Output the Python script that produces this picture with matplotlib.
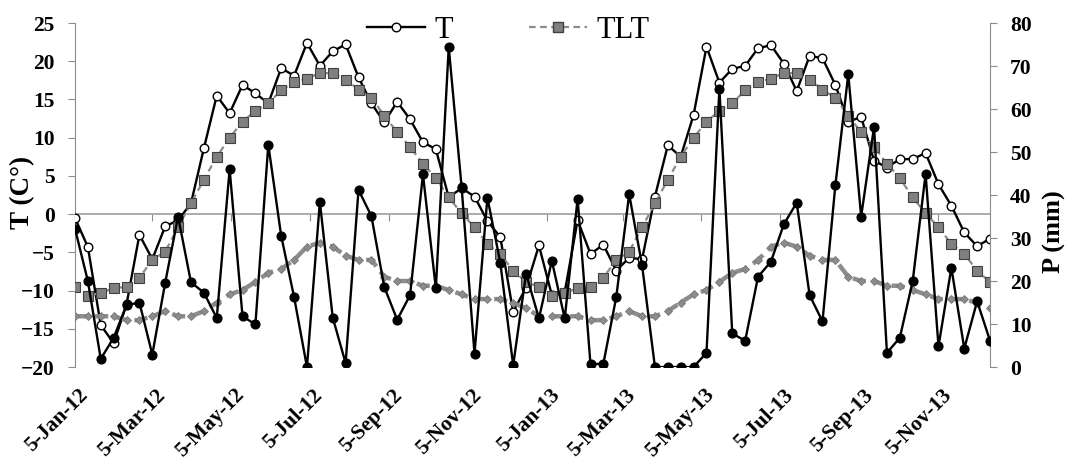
import numpy as np
import pandas as pd
import matplotlib
matplotlib.use("Agg")
import matplotlib.pyplot as plt
import matplotlib.dates as mdates
import matplotlib.transforms as mtransforms
from matplotlib.lines import Line2D

# dekadal series, 10-day step starting 5-Jan-2012 (72 points)
start_date = "2012-01-05"
n_points = 72

# air temperature (deg C)
t_obs = [-0.5, -4.3, -14.5, -16.9, -11.8, -2.7, -5.9, -1.6, -0.8, 1.4, 8.6, 15.5,
         13.2, 16.9, 15.8, 14.5, 19.1, 18.1, 22.4, 19.4, 21.3, 22.2, 17.9, 14.5,
         12.0, 14.7, 12.4, 9.4, 8.5, 2.2, 3.4, 2.3, -0.9, -3.0, -12.8, -9.6,
         -4.1, -10.6, -10.2, -0.8, -5.2, -4.0, -7.4, -5.7, -5.9, 2.3, 9.0, 7.5,
         13.0, 21.9, 17.2, 19.0, 19.4, 21.7, 22.1, 19.7, 16.1, 20.7, 20.4, 16.9,
         12.1, 12.7, 7.0, 6.1, 7.2, 7.2, 8.0, 3.9, 1.1, -2.4, -4.2, -3.2]

# long-term temperature (deg C)
t_lt = [-9.5, -10.7, -10.3, -9.7, -9.5, -8.3, -6.0, -4.9, -1.7, 1.4, 4.5, 7.5,
        10.0, 12.1, 13.5, 14.5, 16.2, 17.3, 17.7, 18.5, 18.4, 17.6, 16.3, 15.2,
        12.9, 10.7, 8.8, 6.6, 4.7, 2.2, 0.1, -1.7, -3.9, -5.2, -7.4, -8.9,
        -9.5, -10.7, -10.3, -9.7, -9.5, -8.3, -6.0, -4.9, -1.7, 1.4, 4.5, 7.5,
        10.0, 12.1, 13.5, 14.5, 16.2, 17.3, 17.7, 18.5, 18.4, 17.6, 16.3, 15.2,
        12.9, 10.7, 8.8, 6.6, 4.7, 2.2, 0.1, -1.7, -3.9, -5.2, -7.4, -8.9]

# precipitation (mm)
p_obs = [32.2, 20.0, 1.9, 6.8, 14.4, 15.0, 2.9, 19.6, 35.0, 19.7, 17.3, 11.4,
         46.0, 11.8, 9.9, 51.7, 30.5, 16.3, 0.0, 38.4, 11.5, 0.9, 41.2, 35.1,
         18.6, 11.0, 16.7, 44.8, 18.3, 74.4, 41.8, 3.1, 39.4, 24.3, 0.4, 21.7,
         11.3, 24.7, 11.3, 39.1, 0.6, 0.8, 16.3, 40.2, 23.7, 0.0, 0.0, 0.0,
         0.0, 3.3, 64.7, 7.8, 6.1, 21.0, 24.5, 33.2, 38.2, 16.7, 10.6, 42.3,
         68.1, 35.0, 55.8, 3.3, 6.8, 20.0, 44.9, 4.8, 23.1, 4.3, 15.3, 6.1]

# long-term precipitation (mm)
p_lt = [11.8, 11.8, 11.8, 11.8, 10.9, 10.9, 11.8, 13.0, 11.8, 11.8, 13.0, 15.0,
        16.9, 17.9, 19.8, 21.9, 22.8, 24.9, 28.0, 28.9, 28.0, 25.9, 24.9, 24.9,
        21.0, 20.0, 20.0, 18.9, 18.9, 17.9, 16.9, 15.8, 15.8, 15.8, 14.9, 13.7,
        11.8, 11.8, 11.8, 11.8, 10.9, 10.9, 11.8, 13.0, 11.8, 11.8, 13.0, 15.0,
        16.9, 17.9, 19.8, 21.9, 22.8, 24.9, 28.0, 28.9, 28.0, 25.9, 24.9, 24.9,
        21.0, 20.0, 20.0, 18.9, 18.9, 17.9, 16.9, 15.8, 15.8, 15.8, 14.9, 13.7]

tick_dates = ["2012-01-05", "2012-03-05", "2012-05-05", "2012-07-05", "2012-09-05",
              "2012-11-05", "2013-01-05", "2013-03-05", "2013-05-05", "2013-07-05",
              "2013-09-05", "2013-11-05"]
tick_labels = ["5-Jan-12", "5-Mar-12", "5-May-12", "5-Jul-12", "5-Sep-12", "5-Nov-12",
               "5-Jan-13", "5-Mar-13", "5-May-13", "5-Jul-13", "5-Sep-13", "5-Nov-13"]

dates = pd.date_range(start=start_date, periods=n_points, freq="10D")
x = mdates.date2num(dates.to_pydatetime())
xt = mdates.date2num(pd.to_datetime(tick_dates).to_pydatetime())

plt.rcParams["font.family"] = ["Liberation Serif", "DejaVu Serif"]
gray_axis = "#8c8c8c"

fig = plt.figure(figsize=(10.68, 4.66), dpi=100)
ax = fig.add_axes([0.0702, 0.2124, 0.8568, 0.7382])
ax2 = ax.twinx()

# temperature on left axis
ax.axhline(0, color="#a6a6a6", lw=1.3, zorder=1)
ax.plot(x, t_obs, color="black", lw=1.7, marker="o", ms=6.2, mfc="white",
        mec="black", mew=1.0, zorder=3)
ax.plot(x, t_lt, color="#8c8c8c", lw=1.6, ls=(0, (3, 2)), marker="s", ms=6.8,
        mfc="#808080", mec="#404040", mew=0.8, zorder=4)

# precipitation on right axis
ax2.plot(x, p_lt, color="#8c8c8c", lw=3.2, ls=(0, (3, 1.5)), marker="D", ms=4.5,
         mfc="#8c8c8c", mec="#777777", mew=0.6, zorder=2)
ax2.plot(x, p_obs, color="black", lw=1.7, marker="o", ms=6.3, mfc="black",
         mec="black", zorder=3)

ax.set_xlim(x[0], x[-1])
ax.set_ylim(-20, 25)
ax.set_yticks(np.arange(-20, 26, 5))
ax2.set_ylim(0, 80)
ax2.set_yticks(np.arange(0, 81, 10))

ax.set_xticks(xt)
ax.set_xticklabels(tick_labels, rotation=45, ha="right", va="top",
                   rotation_mode="anchor", fontweight="bold", fontsize=15.5)
ax.tick_params(axis="x", length=0, pad=13)
shift = mtransforms.ScaledTranslation(0.03, 0, fig.dpi_scale_trans)
for lab in ax.get_xticklabels():
    lab.set_transform(lab.get_transform() + shift)

ax.tick_params(axis="y", direction="out", length=5, color=gray_axis, labelsize=15.5, pad=9.5)
ax2.tick_params(axis="y", direction="out", length=5, color=gray_axis, labelsize=15.5, pad=9.5)
for lab in ax.get_yticklabels() + ax2.get_yticklabels():
    lab.set_fontweight("bold")

# tick marks on the zero line
sec = ax.secondary_xaxis(20 / 45)
sec.set_xticks(xt)
sec.tick_params(axis="x", direction="out", length=5, color=gray_axis, labelbottom=False)
sec.spines["bottom"].set_visible(False)

for s in ["top", "bottom", "right"]:
    ax.spines[s].set_visible(False)
ax.spines["left"].set_color(gray_axis)
for s in ["top", "bottom", "left"]:
    ax2.spines[s].set_visible(False)
ax2.spines["right"].set_color(gray_axis)

fig.text(0.0215, 0.586, "T (C°)", rotation=90, ha="center", va="center",
         fontsize=19.5, fontweight="bold")
fig.text(0.987, 0.502, "P (mm)", rotation=90, ha="center", va="center",
         fontsize=19, fontweight="bold")

handles = [
    Line2D([], [], color="black", lw=1.7, marker="o", ms=6.2, mfc="white", mec="black"),
    Line2D([], [], color="#8c8c8c", lw=1.6, ls=(0, (3, 2)), marker="s", ms=6.8,
           mfc="#808080", mec="#404040"),
]
fig.legend(handles, ["T", "TLT"], loc="center", bbox_to_anchor=(0.476, 0.935),
           ncol=2, frameon=False, fontsize=22, handlelength=1.9, handletextpad=0.3,
           columnspacing=2.5, borderaxespad=0)

fig.savefig("out.png", dpi=100)
